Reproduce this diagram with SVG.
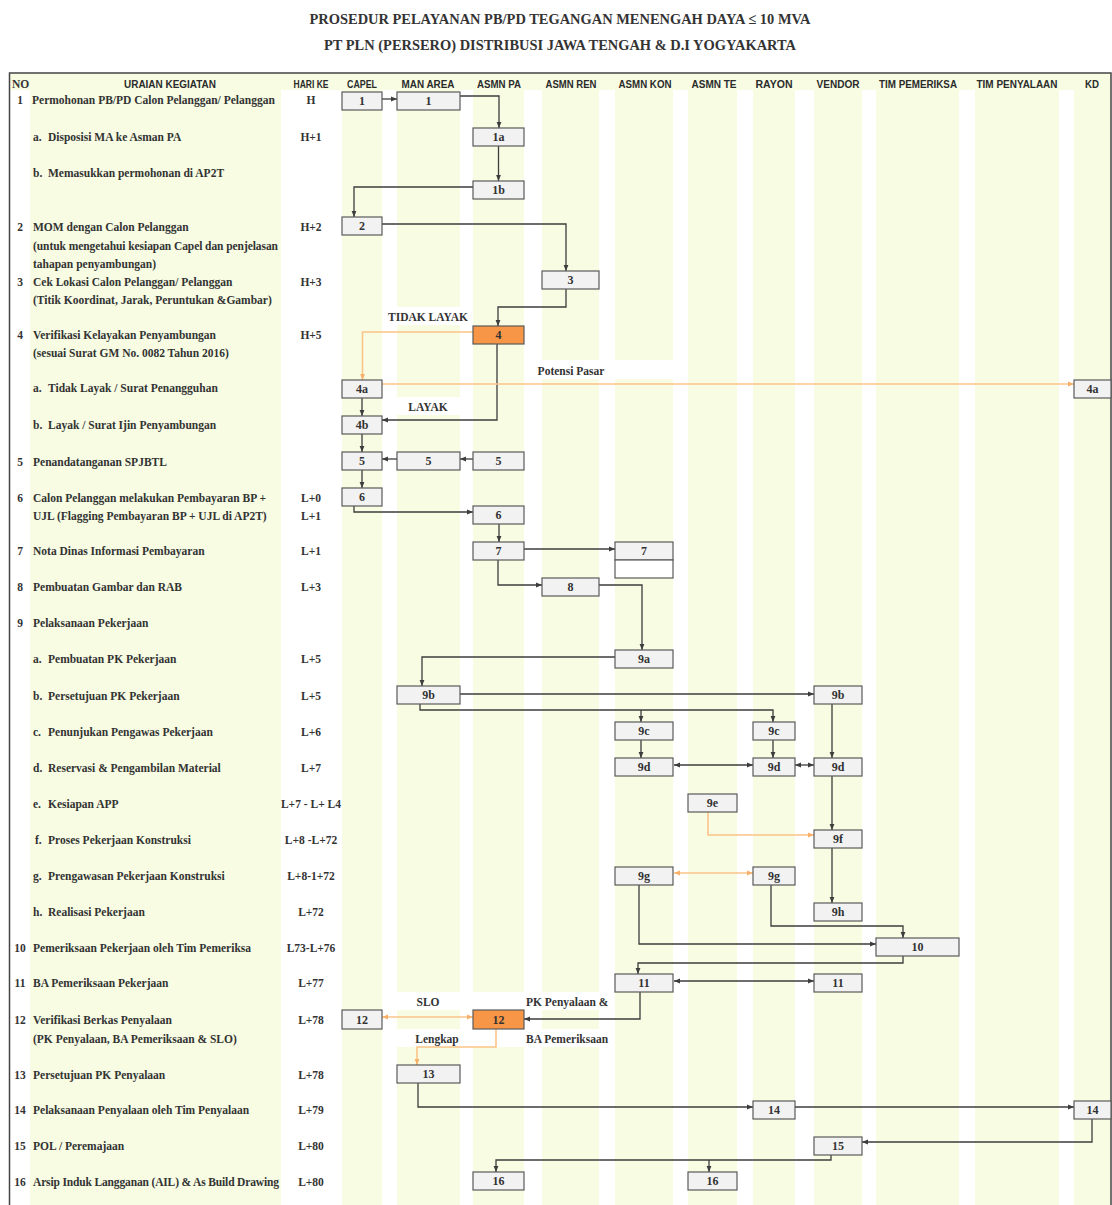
<svg xmlns="http://www.w3.org/2000/svg" width="1112" height="1205" viewBox="0 0 1112 1205">
<defs>
<style>
.stripe{fill:#F7FCE3}
.hdrbg{fill:#F7FCE3}
.hdr{font-family:"Liberation Sans Narrow","Arial Narrow","Liberation Sans",Arial,sans-serif;font-weight:bold;font-size:11px;fill:#2b2b2b;text-anchor:middle}
.title{font-family:"Liberation Serif","Times New Roman",serif;font-weight:bold;font-size:15px;fill:#333;text-anchor:middle}
.lbl{font-family:"Liberation Serif","Times New Roman",serif;font-weight:bold;font-size:11.5px;fill:#333}
.num{font-family:"Liberation Serif","Times New Roman",serif;font-weight:bold;font-size:11.5px;fill:#333;text-anchor:middle}
.hari{font-family:"Liberation Serif","Times New Roman",serif;font-weight:bold;font-size:11.5px;fill:#333;text-anchor:middle}
.box{fill:#F2F2F2;stroke:#5a5a5a;stroke-width:1.2}
.boxo{fill:#F79646;stroke:#5a5a5a;stroke-width:1.2}
.boxw{fill:#ffffff;stroke:#5a5a5a;stroke-width:1.2}
.bt{font-family:"Liberation Serif","Times New Roman",serif;font-weight:bold;font-size:12px;fill:#333;text-anchor:middle}
.c{fill:none;stroke:#3d3d3d;stroke-width:1.3;marker-end:url(#ah)}
.cd{fill:none;stroke:#3d3d3d;stroke-width:1.3;marker-end:url(#ah);marker-start:url(#ah)}
.o{fill:none;stroke:#FBC488;stroke-width:1.6;marker-end:url(#ao)}
.od{fill:none;stroke:#FBC488;stroke-width:1.6;marker-end:url(#ao);marker-start:url(#ao)}
.wb{fill:#ffffff}
</style>
<marker id="ah" viewBox="0 0 6 6" refX="6" refY="3" markerWidth="6" markerHeight="6" markerUnits="userSpaceOnUse" orient="auto-start-reverse"><path d="M0,0.6 L6,3 L0,5.4 Z" fill="#3d3d3d"/></marker>
<marker id="ao" viewBox="0 0 6 6" refX="6" refY="3" markerWidth="6" markerHeight="6" markerUnits="userSpaceOnUse" orient="auto-start-reverse"><path d="M0,0.6 L6,3 L0,5.4 Z" fill="#F9B06A"/></marker>
</defs>
<rect width="1112" height="1205" fill="#ffffff"/>

<g id="title">
<text class="title" x="560" y="24" textLength="501" lengthAdjust="spacingAndGlyphs">PROSEDUR PELAYANAN PB/PD TEGANGAN MENENGAH DAYA ≤ 10 MVA</text>
<text class="title" x="560" y="50" textLength="472" lengthAdjust="spacingAndGlyphs">PT PLN (PERSERO) DISTRIBUSI JAWA TENGAH &amp; D.I YOGYAKARTA</text>
</g>

<g id="table-background">
<rect class="hdrbg" x="10" y="73" width="1101" height="17"/>
<rect class="stripe" x="30" y="90" width="251" height="1115"/>
<rect class="stripe" x="342" y="90" width="40" height="1115"/>
<rect class="stripe" x="397" y="90" width="63" height="1115"/>
<rect class="stripe" x="473" y="90" width="51" height="1115"/>
<rect class="stripe" x="542" y="90" width="57" height="1115"/>
<rect class="stripe" x="615" y="90" width="58" height="1115"/>
<rect class="stripe" x="688" y="90" width="49" height="1115"/>
<rect class="stripe" x="753" y="90" width="42" height="1115"/>
<rect class="stripe" x="814" y="90" width="48" height="1115"/>
<rect class="stripe" x="876" y="90" width="83" height="1115"/>
<rect class="stripe" x="975" y="90" width="84" height="1115"/>
<rect class="stripe" x="1074" y="90" width="37" height="1115"/>
<rect class="wb" x="385" y="307" width="85" height="18"/>
<rect class="wb" x="530" y="360" width="145" height="19"/>
<rect class="wb" x="395" y="397" width="67" height="18"/>
<rect class="wb" x="395" y="992" width="215" height="18"/>
<rect class="wb" x="395" y="1029" width="215" height="18"/>
<path d="M9.5,1205 V73 H1111 V1205" fill="none" stroke="#444" stroke-width="1.5"/>
</g>

<g id="header">
<text class="lbl" x="12" y="88">NO</text>
<text class="hdr" x="170" y="88" textLength="92" lengthAdjust="spacingAndGlyphs">URAIAN KEGIATAN</text>
<text class="hdr" x="311" y="88" textLength="35" lengthAdjust="spacingAndGlyphs">HARI KE</text>
<text class="hdr" x="362" y="88" textLength="30" lengthAdjust="spacingAndGlyphs">CAPEL</text>
<text class="hdr" x="428" y="88" textLength="53" lengthAdjust="spacingAndGlyphs">MAN AREA</text>
<text class="hdr" x="499" y="88" textLength="44" lengthAdjust="spacingAndGlyphs">ASMN PA</text>
<text class="hdr" x="571" y="88" textLength="51" lengthAdjust="spacingAndGlyphs">ASMN REN</text>
<text class="hdr" x="645" y="88" textLength="53" lengthAdjust="spacingAndGlyphs">ASMN KON</text>
<text class="hdr" x="714" y="88" textLength="45" lengthAdjust="spacingAndGlyphs">ASMN TE</text>
<text class="hdr" x="774" y="88" textLength="37" lengthAdjust="spacingAndGlyphs">RAYON</text>
<text class="hdr" x="838" y="88" textLength="43" lengthAdjust="spacingAndGlyphs">VENDOR</text>
<text class="hdr" x="918" y="88" textLength="78" lengthAdjust="spacingAndGlyphs">TIM PEMERIKSA</text>
<text class="hdr" x="1017" y="88" textLength="81" lengthAdjust="spacingAndGlyphs">TIM PENYALAAN</text>
<text class="hdr" x="1092" y="88" textLength="14" lengthAdjust="spacingAndGlyphs">KD</text>
</g>

<g id="activities">
<text class="num" x="20" y="104">1</text><text class="lbl" x="32" y="104">Permohonan PB/PD Calon Pelanggan/ Pelanggan</text><text class="hari" x="311" y="104">H</text>
<text class="lbl" x="33" y="141">a.</text><text class="lbl" x="48" y="141">Disposisi MA ke Asman PA</text><text class="hari" x="311" y="141">H+1</text>
<text class="lbl" x="33" y="177">b.</text><text class="lbl" x="48" y="177">Memasukkan permohonan di AP2T</text>
<text class="num" x="20" y="231">2</text><text class="lbl" x="33" y="231">MOM dengan Calon Pelanggan</text><text class="hari" x="311" y="231">H+2</text>
<text class="lbl" x="33" y="250" textLength="245">(untuk mengetahui kesiapan Capel dan penjelasan</text>
<text class="lbl" x="33" y="268">tahapan penyambungan)</text>
<text class="num" x="20" y="286">3</text><text class="lbl" x="33" y="286">Cek Lokasi Calon Pelanggan/ Pelanggan</text><text class="hari" x="311" y="286">H+3</text>
<text class="lbl" x="33" y="304">(Titik Koordinat, Jarak, Peruntukan &amp;Gambar)</text>
<text class="num" x="20" y="339">4</text><text class="lbl" x="33" y="339">Verifikasi Kelayakan Penyambungan</text><text class="hari" x="311" y="339">H+5</text>
<text class="lbl" x="33" y="357">(sesuai Surat GM No. 0082 Tahun 2016)</text>
<text class="lbl" x="33" y="392">a.</text><text class="lbl" x="48" y="392">Tidak Layak / Surat Penangguhan</text>
<text class="lbl" x="33" y="429">b.</text><text class="lbl" x="48" y="429">Layak / Surat Ijin Penyambungan</text>
<text class="num" x="20" y="466">5</text><text class="lbl" x="33" y="466">Penandatanganan SPJBTL</text>
<text class="num" x="20" y="502">6</text><text class="lbl" x="33" y="502">Calon Pelanggan melakukan Pembayaran BP +</text><text class="hari" x="311" y="502">L+0</text>
<text class="lbl" x="33" y="520">UJL (Flagging Pembayaran BP + UJL di AP2T)</text><text class="hari" x="311" y="520">L+1</text>
<text class="num" x="20" y="555">7</text><text class="lbl" x="33" y="555">Nota Dinas Informasi Pembayaran</text><text class="hari" x="311" y="555">L+1</text>
<text class="num" x="20" y="591">8</text><text class="lbl" x="33" y="591">Pembuatan Gambar dan RAB</text><text class="hari" x="311" y="591">L+3</text>
<text class="num" x="20" y="627">9</text><text class="lbl" x="33" y="627">Pelaksanaan Pekerjaan</text>
<text class="lbl" x="33" y="663">a.</text><text class="lbl" x="48" y="663">Pembuatan PK Pekerjaan</text><text class="hari" x="311" y="663">L+5</text>
<text class="lbl" x="33" y="700">b.</text><text class="lbl" x="48" y="700">Persetujuan PK Pekerjaan</text><text class="hari" x="311" y="700">L+5</text>
<text class="lbl" x="33" y="736">c.</text><text class="lbl" x="48" y="736">Penunjukan Pengawas Pekerjaan</text><text class="hari" x="311" y="736">L+6</text>
<text class="lbl" x="33" y="772">d.</text><text class="lbl" x="48" y="772">Reservasi &amp; Pengambilan Material</text><text class="hari" x="311" y="772">L+7</text>
<text class="lbl" x="33" y="808">e.</text><text class="lbl" x="48" y="808">Kesiapan APP</text><text class="hari" x="311" y="808">L+7 - L+ L4</text>
<text class="lbl" x="35" y="844">f.</text><text class="lbl" x="48" y="844">Proses Pekerjaan Konstruksi</text><text class="hari" x="311" y="844">L+8 -L+72</text>
<text class="lbl" x="33" y="880">g.</text><text class="lbl" x="48" y="880">Prengawasan Pekerjaan Konstruksi</text><text class="hari" x="311" y="880">L+8-1+72</text>
<text class="lbl" x="33" y="916">h.</text><text class="lbl" x="48" y="916">Realisasi Pekerjaan</text><text class="hari" x="311" y="916">L+72</text>
<text class="num" x="20" y="952">10</text><text class="lbl" x="33" y="952">Pemeriksaan Pekerjaan oleh Tim Pemeriksa</text><text class="hari" x="311" y="952">L73-L+76</text>
<text class="num" x="20" y="987">11</text><text class="lbl" x="33" y="987">BA Pemeriksaan Pekerjaan</text><text class="hari" x="311" y="987">L+77</text>
<text class="num" x="20" y="1024">12</text><text class="lbl" x="33" y="1024">Verifikasi Berkas Penyalaan</text><text class="hari" x="311" y="1024">L+78</text>
<text class="lbl" x="33" y="1043">(PK Penyalaan, BA Pemeriksaan &amp; SLO)</text>
<text class="num" x="20" y="1079">13</text><text class="lbl" x="33" y="1079">Persetujuan PK Penyalaan</text><text class="hari" x="311" y="1079">L+78</text>
<text class="num" x="20" y="1114">14</text><text class="lbl" x="33" y="1114">Pelaksanaan Penyalaan oleh Tim Penyalaan</text><text class="hari" x="311" y="1114">L+79</text>
<text class="num" x="20" y="1150">15</text><text class="lbl" x="33" y="1150">POL / Peremajaan</text><text class="hari" x="311" y="1150">L+80</text>
<text class="num" x="20" y="1186">16</text><text class="lbl" x="33" y="1186" textLength="246">Arsip Induk Langganan (AIL) &amp; As Build Drawing</text><text class="hari" x="311" y="1186">L+80</text>
</g>

<g id="connectors">
<path class="c" d="M382,99 H397"/>
<path class="c" d="M460,96 H499 V128"/>
<path class="c" d="M498.5,146 V181"/>
<path class="c" d="M473,187 H354 V217"/>
<path class="c" d="M382,224 H566 V271"/>
<path class="c" d="M566,289 V307 H498 V326"/>
<path class="o" d="M473,332 H362.5 V380"/>
<path class="c" d="M497,344 V420 H382"/>
<path class="o" d="M382,384 H1074"/>
<path class="c" d="M362,398 V416"/>
<path class="c" d="M362,434 V452"/>
<path class="c" d="M473,459 H460"/>
<path class="c" d="M397,459 H382"/>
<path class="c" d="M362,470 V488"/>
<path class="c" d="M354,506 V512 H473"/>
<path class="c" d="M499,524 V542"/>
<path class="c" d="M524,549 H615"/>
<path class="c" d="M498,560 V585 H542"/>
<path class="c" d="M599,585 H642 V650"/>
<path class="c" d="M615,657 H422 V686"/>
<path class="c" d="M460,694 H814"/>
<path class="c" d="M420,704 V710 H773 V722"/>
<path class="c" d="M641,710 V722"/>
<path class="c" d="M641,740 V758"/>
<path class="c" d="M773,740 V758"/>
<path class="cd" d="M674,765 H753"/>
<path class="cd" d="M795,765 H814"/>
<path class="c" d="M832,704 V758"/>
<path class="c" d="M832,776 V830"/>
<path class="o" d="M708,812 V835 H814"/>
<path class="c" d="M832,848 V903"/>
<path class="od" d="M674,873 H753"/>
<path class="c" d="M771,885 V926 H903 V938"/>
<path class="c" d="M639,885 V944 H876"/>
<path class="c" d="M903,956 V963 H638 V974"/>
<path class="cd" d="M674,981 H814"/>
<path class="c" d="M640,992 V1019 H524"/>
<path class="od" d="M382,1017 H473"/>
<path class="o" d="M496,1029 V1047 H417 V1065"/>
<path class="c" d="M418,1083 V1107 H753"/>
<path class="c" d="M795,1107 H1074"/>
<path class="c" d="M1092,1119 V1142 H862"/>
<path class="c" d="M831,1155 V1160 H496 V1172"/>
<path class="c" d="M709,1160 V1172"/>
</g>

<g id="connector-labels">
<text class="lbl" x="428" y="321" text-anchor="middle">TIDAK LAYAK</text>
<text class="lbl" x="571" y="375" text-anchor="middle">Potensi Pasar</text>
<text class="lbl" x="428" y="411" text-anchor="middle">LAYAK</text>
<text class="lbl" x="428" y="1006" text-anchor="middle">SLO</text>
<text class="lbl" x="437" y="1043" text-anchor="middle">Lengkap</text>
<text class="lbl" x="526" y="1006">PK Penyalaan &amp;</text>
<text class="lbl" x="526" y="1043">BA Pemeriksaan</text>
</g>

<g id="n1-capel"><rect class="box" x="342" y="92" width="40" height="18"/><text class="bt" x="362" y="105">1</text></g>
<g id="n1-manarea"><rect class="box" x="397" y="92" width="63" height="18"/><text class="bt" x="428.5" y="105">1</text></g>
<g id="n1a"><rect class="box" x="473" y="128" width="51" height="18"/><text class="bt" x="498.5" y="141">1a</text></g>
<g id="n1b"><rect class="box" x="473" y="181" width="51" height="18"/><text class="bt" x="498.5" y="194">1b</text></g>
<g id="n2"><rect class="box" x="342" y="217" width="40" height="18"/><text class="bt" x="362" y="230">2</text></g>
<g id="n3"><rect class="box" x="542" y="271" width="57" height="18"/><text class="bt" x="570.5" y="284">3</text></g>
<g id="n4"><rect class="boxo" x="473" y="326" width="51" height="18"/><text class="bt" x="498.5" y="339">4</text></g>
<g id="n4a-capel"><rect class="box" x="342" y="380" width="40" height="18"/><text class="bt" x="362" y="393">4a</text></g>
<g id="n4a-kd"><rect class="box" x="1074" y="380" width="37" height="18"/><text class="bt" x="1092.5" y="393">4a</text></g>
<g id="n4b"><rect class="box" x="342" y="416" width="40" height="18"/><text class="bt" x="362" y="429">4b</text></g>
<g id="n5-capel"><rect class="box" x="342" y="452" width="40" height="18"/><text class="bt" x="362" y="465">5</text></g>
<g id="n5-manarea"><rect class="box" x="397" y="452" width="63" height="18"/><text class="bt" x="428.5" y="465">5</text></g>
<g id="n5-asmnpa"><rect class="box" x="473" y="452" width="51" height="18"/><text class="bt" x="498.5" y="465">5</text></g>
<g id="n6-capel"><rect class="box" x="342" y="488" width="40" height="18"/><text class="bt" x="362" y="501">6</text></g>
<g id="n6-asmnpa"><rect class="box" x="473" y="506" width="51" height="18"/><text class="bt" x="498.5" y="519">6</text></g>
<g id="n7-asmnpa"><rect class="box" x="473" y="542" width="51" height="18"/><text class="bt" x="498.5" y="555">7</text></g>
<g id="n7-asmnkon"><rect class="box" x="615" y="542" width="58" height="18"/><rect class="boxw" x="615" y="560" width="58" height="18"/><text class="bt" x="644" y="555">7</text></g>
<g id="n8"><rect class="box" x="542" y="578" width="57" height="18"/><text class="bt" x="570.5" y="591">8</text></g>
<g id="n9a"><rect class="box" x="615" y="650" width="58" height="18"/><text class="bt" x="644" y="663">9a</text></g>
<g id="n9b-manarea"><rect class="box" x="397" y="686" width="63" height="18"/><text class="bt" x="428.5" y="699">9b</text></g>
<g id="n9b-vendor"><rect class="box" x="814" y="686" width="48" height="18"/><text class="bt" x="838" y="699">9b</text></g>
<g id="n9c-asmnkon"><rect class="box" x="615" y="722" width="58" height="18"/><text class="bt" x="644" y="735">9c</text></g>
<g id="n9c-rayon"><rect class="box" x="753" y="722" width="42" height="18"/><text class="bt" x="774" y="735">9c</text></g>
<g id="n9d-asmnkon"><rect class="box" x="615" y="758" width="58" height="18"/><text class="bt" x="644" y="771">9d</text></g>
<g id="n9d-rayon"><rect class="box" x="753" y="758" width="42" height="18"/><text class="bt" x="774" y="771">9d</text></g>
<g id="n9d-vendor"><rect class="box" x="814" y="758" width="48" height="18"/><text class="bt" x="838" y="771">9d</text></g>
<g id="n9e"><rect class="box" x="688" y="794" width="49" height="18"/><text class="bt" x="712.5" y="807">9e</text></g>
<g id="n9f"><rect class="box" x="814" y="830" width="48" height="18"/><text class="bt" x="838" y="843">9f</text></g>
<g id="n9g-asmnkon"><rect class="box" x="615" y="867" width="58" height="18"/><text class="bt" x="644" y="880">9g</text></g>
<g id="n9g-rayon"><rect class="box" x="753" y="867" width="42" height="18"/><text class="bt" x="774" y="880">9g</text></g>
<g id="n9h"><rect class="box" x="814" y="903" width="48" height="18"/><text class="bt" x="838" y="916">9h</text></g>
<g id="n10"><rect class="box" x="876" y="938" width="83" height="18"/><text class="bt" x="917.5" y="951">10</text></g>
<g id="n11-asmnkon"><rect class="box" x="615" y="974" width="58" height="18"/><text class="bt" x="644" y="987">11</text></g>
<g id="n11-vendor"><rect class="box" x="814" y="974" width="48" height="18"/><text class="bt" x="838" y="987">11</text></g>
<g id="n12-capel"><rect class="box" x="342" y="1010" width="40" height="19"/><text class="bt" x="362" y="1024">12</text></g>
<g id="n12-asmnpa"><rect class="boxo" x="473" y="1010" width="51" height="19"/><text class="bt" x="498.5" y="1024">12</text></g>
<g id="n13"><rect class="box" x="397" y="1065" width="63" height="18"/><text class="bt" x="428.5" y="1078">13</text></g>
<g id="n14-rayon"><rect class="box" x="753" y="1101" width="42" height="18"/><text class="bt" x="774" y="1114">14</text></g>
<g id="n14-kd"><rect class="box" x="1074" y="1101" width="37" height="18"/><text class="bt" x="1092.5" y="1114">14</text></g>
<g id="n15"><rect class="box" x="814" y="1137" width="48" height="18"/><text class="bt" x="838" y="1150">15</text></g>
<g id="n16-asmnpa"><rect class="box" x="473" y="1172" width="51" height="18"/><text class="bt" x="498.5" y="1185">16</text></g>
<g id="n16-asmnte"><rect class="box" x="688" y="1172" width="49" height="18"/><text class="bt" x="712.5" y="1185">16</text></g>
</svg>
